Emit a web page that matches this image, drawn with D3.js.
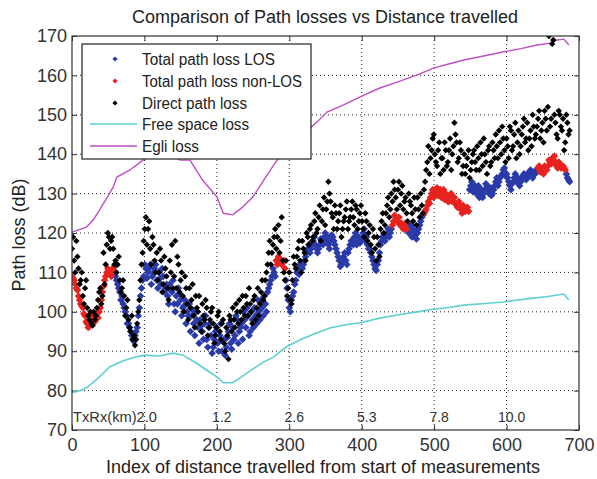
<!DOCTYPE html>
<html><head><meta charset="utf-8">
<script src="https://cdn.jsdelivr.net/npm/d3@7"></script>
<style>body{margin:0;background:#fff;} svg{display:block;}</style>
</head><body>
<svg id="c" width="597" height="479"></svg>
<script>
// ---- data ----
const STEP = 3;        // index spacing of the sampled measurements
const OFFSET2 = 1.5;   // second sample set lies between the first
const totalLoss = [109,108,106,104,102,101,99,97,96.5,97,98,99,98.5,101,105,108,110,110.5,109,111,
109,107,105,104,101,99,97,95,93,94,96,101,106,109,111,110,112,109,111,108,
110,107,109,106,104,107,105,102,104,106,103,101,103,100,102,99,97,100,96,98,
95,97,93,96,94,91,95,92,94,90,93,91,95,92,96,94,98,95,97,100,
96,99,95,98,101,97,100,103,99,102,105,107,109,110,113,114,113,112.5,111,106,
101,103,105,108,111,112,111,113,115,117,116,118,117,115,117,118,119,118,117,118,
119,117,115,113,112,114,113,115,117,118,119,117,119,118,120,118,117,116,114,112,
110.5,113,117,119,118,120,119,121,123,124,123,122,121.5,122,121,120,122,121,119.5,120,
122,124,125,126,128,129,131,130,131.5,130,129,131,130,128,129.5,128,129,127,128,126,
127,125.5,126.5,131,133,131,130,132,130,129,131,132,130,129.5,131,133,132,134,135,136.5,
135,133,131,133,135,134,132,134,135,133.5,135,136,134,135,135.5,137,136,135,136.5,137,
138,139,139.5,137,138,136.5,137,136,134,133];
const totalLoss2 = [108.5,107,105.5,103,101.5,99.5,97.5,96,97.5,99,97.5,99.5,100,103,106.5,109,111,109.5,110,111.5,
108,106,103,102,100,97,96,94,92.5,95,99,104,108,112,108.5,111,107,110,112,106,
108.5,111,105,107,102,105.5,108,100,102,104.5,99,101.5,97,99,95,100.5,94,98,92,96.5,
93,99,91,97,89.5,93,96,90,97,92.5,89,93.5,97,90.5,93,99,92,96,93,98,
101,94,100,96,99,103,98,101,104,100,106,108,111,109,112,113.5,112,113,108,103,
100,104,107,110,109.5,112.5,112,114,116,115,117,119,116,116,118.5,117,120,119,116,119.5,
118,116,114,111.5,113,115,112,116,118,117,120,118,117.5,119,121,119,116,115,113,111,
112,115,118,119.5,119,121,120,122,124.5,123,124,122.5,121,122.5,120.5,121.5,119,120.5,118.5,121,
123,124.5,125.5,127,127.5,130,129,131,129.5,131,130,128.5,129,128,130,129,127.5,126.5,127,125,
126,126,125.5,132,130.5,132,131,129,131,130,132.5,131,131.5,130,132,134,133,134.5,136,134.5,
134,132,132.5,134,133,133.5,133,134.5,134,135,134.5,135.5,135,136,136.5,135.5,136,137,136,138.5,
137.5,138.5,138,136.5,137.5,137,136.5,135,133.5];
// index ranges where the total path loss is non-LOS
const nonLosRanges = [[0,58],[281,294],[442,462],[485,548],[643,682]];
const directLoss = [116,113,118,111,108,104,106,101,98,97,100,99,103,106,104,107,117,119,118,116,
113,112,108,106,104,101,98,95,93,91.5,97,103,112,118,124,121,116,119,113,115,
110,113,107,111,106,113,117,109,106,112,108,104,109,102,106,103,99,104,100,97,
102,98,101,96,100,97,94,99,95,97,92,96,88,98,101,96,100,103,98,101,
104,99,102,97,104,101,99,105,103,108,112,118,115,119,116,122,118,113,108,104,
110,102,114,111,116,113,118,115,120,117,122,119,125,121,127,123,129,126,133,128,
124,127,121,125,119,123,126,121,124,128,122,126,123,127,121,125,118,122,115,119,
113,117,121,125,122,127,124,130,133,129,131,127,132,128,125,130,127,123,126,129,
124,127,131,136,142,139,144,140,137,143,139,136,141,138,144,140,148,143,139,141,
137,135,139,134,138,141,136,139,143,137,140,135,142,138,141,145,139,143,147,141,
144,139,146,142,148,143,140,145,149,144,141,146,150,144,147,151,146,143,149,152,
147,168,150,145,151,147,149,143,148,146];
const directLoss2 = [119,110,114,107,110,102,108,99,100,96.5,98,101,105,102,115,112,120,116,119,112,
110,114,105,108,99,103,96,99,94,93,100,108,115,121,117,123,112,117,110,108,
116,105,114,109,103,110,106,118,114,105,110,100,106,98,101,107,96,101,104,95,
99,103,94,98,101,92,96,100,93,98,90,94,99,95,98,102,97,100,104,99,
102,106,100,103,98,106,102,108,104,110,115,112,117,121,119,115,124,110,113,106,
103,108,112,114,118,110,116,113,119,121,118,123,120,124,118,126,122,128,130,125,
121,125,123,127,121,124,128,123,126,124,127,121,125,123,119,123,120,117,121,116,
119,114,123,120,125,129,126,128,131,126,133,130,126,129,123,128,125,129,122,126,
130,125,133,138,135,141,145,138,141,135,139,143,137,141,136,142,145,138,143,135,
140,137,141,136,140,138,142,136,140,144,138,141,137,143,139,142,146,140,144,138,
142,147,141,145,139,146,142,147,143,148,144,142,147,145,149,144,148,151,146,170,
149,169,148,144,150,146,141,150,145];
const freeIdx  = [0,10,20,35,52,70,85,100,120,140,153,170,185,200,209,222,235,250,265,278,295,315,335,356,378,398,425,449,470,494,520,541,570,596,615,633,655,679,686];
const freeLoss = [79.5,79.9,80.7,83,86,87.5,88.4,89,88.8,89.5,89,87.2,85.3,83.5,82,82,83.6,85.5,87.3,88.5,91,92.9,94.4,95.9,96.7,97.2,98.4,99.2,99.8,100.5,101.1,101.7,102.1,102.5,103,103.4,103.8,104.5,103];
const egliIdx  = [0,20,30,38,50,57,62,80,98,115,130,149,163,180,200,209,222,235,250,265,283,305,325,331,340,352,375,403,425,449,475,500,520,541,570,596,620,642,660,670,679,686];
const egliLoss = [120.2,121.5,123.5,125.8,129.5,131.7,134.2,136,138.5,140.5,140.8,138.5,138.5,133.5,129.2,125,124.6,126.5,129.2,133.5,138.5,142,145,147,148.5,150.7,152.5,155,156.8,158.3,160,161.9,162.9,163.9,165,166,166.8,167.7,168.2,169,169.2,167.7];
const xTicks = [0,100,200,300,400,500,600,700];
const yTicks = [70,80,90,100,110,120,130,140,150,160,170];
const txrxIdx = [200,300,400,500,600];
const txrxLabels = ["1.2","2.6","5.3","7.8","10.0"];
const txrxFirst = "TxRx(km)2.0";
const legendLabels = ["Total path loss LOS","Total path loss non-LOS","Direct path loss","Free space loss","Egli loss"];
const colors = {los:"#2a3aa8", nlos:"#e8231e", direct:"#000", free:"#5fcfcf", egli:"#c04ec4"};

// ---- chart ----
const svg = d3.select("#c");
const L=72, R=579, T=36, B=430;
const x = d3.scaleLinear().domain([0,700]).range([L,R]);
const y = d3.scaleLinear().domain([70,170]).range([B,T]);
const font = "'Liberation Sans', Arial, sans-serif";

svg.append("defs").append("clipPath").attr("id","clip")
  .append("rect").attr("x",L).attr("y",T).attr("width",R-L).attr("height",B-T);

// grid
const g = svg.append("g");
g.selectAll(".gx").data(xTicks.slice(1,-1)).join("line")
  .attr("x1",d=>x(d)).attr("x2",d=>x(d)).attr("y1",T).attr("y2",B)
  .attr("stroke","#222").attr("stroke-width",1).attr("stroke-dasharray","1,3");
g.selectAll(".gy").data(yTicks.slice(1,-1)).join("line")
  .attr("y1",d=>y(d)).attr("y2",d=>y(d)).attr("x1",L).attr("x2",R)
  .attr("stroke","#222").attr("stroke-width",1).attr("stroke-dasharray","1,3");

// axes
const ax = d3.axisBottom(x).tickValues(xTicks).tickSize(-5).tickPadding(8);
const ay = d3.axisLeft(y).tickValues(yTicks).tickSize(-5).tickPadding(5);
const axT = d3.axisTop(x).tickValues(xTicks).tickSize(-5).tickFormat("");
const ayR = d3.axisRight(y).tickValues(yTicks).tickSize(-5).tickFormat("");
function style(sel){
  sel.select(".domain").remove();
  sel.selectAll("line").attr("stroke","#333");
  sel.selectAll("text").attr("fill","#333").style("font-family",font).style("font-size","18px");
}
svg.append("g").attr("transform",`translate(0,${B})`).call(ax).call(style);
svg.append("g").attr("transform",`translate(${L},0)`).call(ay).call(style);
svg.append("g").attr("transform",`translate(0,${T})`).call(axT).call(style);
svg.append("g").attr("transform",`translate(${R},0)`).call(ayR).call(style);

const plot = svg.append("g").attr("clip-path","url(#clip)");

// curves
const line = d3.line().x(d=>x(d[0])).y(d=>y(d[1]));
plot.append("path").datum(freeIdx.map((v,i)=>[v,freeLoss[i]]))
  .attr("d",line).attr("fill","none").attr("stroke",colors.free).attr("stroke-width",1.6);
plot.append("path").datum(egliIdx.map((v,i)=>[v,egliLoss[i]]))
  .attr("d",line).attr("fill","none").attr("stroke",colors.egli).attr("stroke-width",1.4);

// markers
const diamond = h => `M0,${-h}L${h},0L0,${h}L${-h},0Z`;
const isNL = i => nonLosRanges.some(r => i>=r[0] && i<=r[1]);
const tot = totalLoss.map((v,k)=>({i:k*STEP, v}))
  .concat(totalLoss2.map((v,k)=>({i:k*STEP+OFFSET2, v})));
const dir = directLoss.map((v,k)=>({i:k*STEP, v}))
  .concat(directLoss2.map((v,k)=>({i:k*STEP+OFFSET2, v})));
plot.selectAll(".los").data(tot.filter(d=>!isNL(d.i))).join("path")
  .attr("d",diamond(3.8)).attr("fill",colors.los)
  .attr("transform",d=>`translate(${x(d.i)},${y(d.v)})`);
plot.selectAll(".nlos").data(tot.filter(d=>isNL(d.i))).join("path")
  .attr("d",diamond(3.8)).attr("fill",colors.nlos)
  .attr("transform",d=>`translate(${x(d.i)},${y(d.v)})`);
plot.selectAll(".dir").data(dir).join("path")
  .attr("d",diamond(3.2)).attr("fill",colors.direct)
  .attr("transform",d=>`translate(${x(d.i)},${y(d.v)})`);

// TxRx labels
const tx = svg.append("g").style("font-family",font).style("font-size","14px").attr("fill","#333");
tx.append("text").attr("x",x(0)+1).attr("y",B-8).attr("textLength",84)
  .attr("lengthAdjust","spacingAndGlyphs").text(txrxFirst);
tx.selectAll(".tl").data(txrxIdx).join("text")
  .attr("x",d=>x(d)+5).attr("y",B-8).attr("text-anchor","middle").text((d,i)=>txrxLabels[i]);

// frame
svg.append("rect").attr("x",L).attr("y",T).attr("width",R-L).attr("height",B-T)
  .attr("fill","none").attr("stroke","#333").attr("stroke-width",1.2);

// legend
const lg = svg.append("g");
lg.append("rect").attr("x",82).attr("y",44).attr("width",229).attr("height",115)
  .attr("fill","#fff").attr("stroke","#333").attr("stroke-width",1.3);
const rows = [59,81,103,124,146];
const widths = [133,160,105,107,57];
legendLabels.forEach((t,i)=>{
  const yy = rows[i];
  if(i<3){
    lg.append("path").attr("d",diamond(2.6))
      .attr("fill",[colors.los,colors.nlos,colors.direct][i])
      .attr("transform",`translate(115,${yy})`);
  } else {
    lg.append("line").attr("x1",90).attr("x2",137).attr("y1",yy).attr("y2",yy)
      .attr("stroke",i==3?colors.free:colors.egli).attr("stroke-width",1.6);
  }
  lg.append("text").attr("x",142).attr("y",yy+6).text(t)
    .attr("textLength",widths[i]).attr("lengthAdjust","spacingAndGlyphs")
    .style("font-family",font).style("font-size","16px").attr("fill","#222");
});

// titles
svg.append("text").attr("x",325).attr("y",23).attr("text-anchor","middle")
  .style("font-family",font).style("font-size","18px").attr("fill","#222")
  .text("Comparison of Path losses vs Distance travelled");
svg.append("text").attr("x",323).attr("y",473).attr("text-anchor","middle")
  .style("font-family",font).style("font-size","18px").attr("fill","#222")
  .text("Index of distance travelled from start of measurements");
svg.append("text").attr("transform","translate(25,235) rotate(-90)").attr("text-anchor","middle")
  .style("font-family",font).style("font-size","18px").attr("fill","#222")
  .text("Path loss (dB)");
</script>
</body></html>
